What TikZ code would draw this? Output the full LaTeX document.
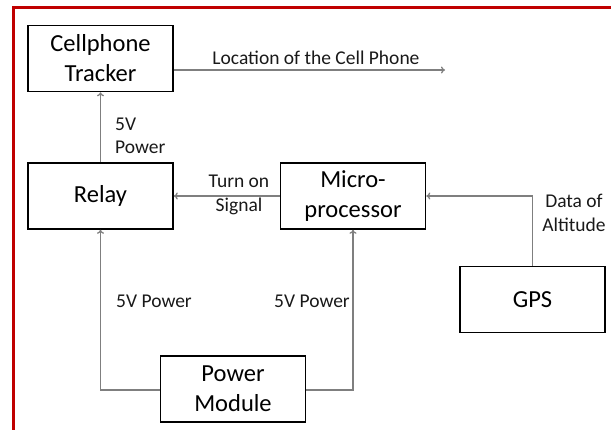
\documentclass[tikz,border=0pt]{standalone}
\usepackage{fontspec}
\setmainfont{Carlito}
\usetikzlibrary{arrows.meta}
\definecolor{framered}{HTML}{C00000}
\definecolor{conn}{HTML}{7F7F7F}
\tikzset{
  blk/.style={draw=black, line width=1.6pt, minimum width=145pt, minimum height=66pt,
    inner sep=0pt, align=center, font=\fontsize{24.5}{30}\selectfont, text=black},
  lbl/.style={font=\fontsize{19.5}{23.5}\selectfont, text=black!90, inner sep=0pt},
  conn/.style={draw=conn, line width=1.3pt, -{To[length=4pt,width=7pt]}}
}
\begin{document}
\begin{tikzpicture}[x=1pt,y=-1pt]
\useasboundingbox (0,0) rectangle (611,429);
\clip (0,0) rectangle (611,429);
\draw[framered, line width=3pt] (13.5,440) -- (13.5,7) -- (620,7);
\node[blk] (tracker) at (100.5,58.5) {Cellphone\\Tracker};
\node[blk] (relay) at (100.5,196) {Relay};
\node[blk] (micro) at (353,196) {Micro-\\processor};
\node[blk] (gps) at (532.5,299.5) {GPS};
\node[blk] (power) at (233,389) {Power\\Module};
\coordinate (loc) at (445,70);
\draw[conn] ([yshift=-11.5pt]tracker.east) -- (loc);
\node[lbl] (loclbl) at (316,58) {Location of the Cell Phone};
\draw[conn] (relay.north) -- (tracker.south);
\node[lbl, align=left, anchor=west] (pw1) at (115,136) {5V\\Power};
\draw[conn] (micro.west) -- (relay.east);
\node[lbl, align=center] (turn) at (239,195) {Turn on\\Signal};
\draw[conn] (gps.north) |- (micro.east);
\node[lbl, align=center] (data) at (574,213) {Data of\\Altitude};
\draw[conn] ([yshift=-1pt]power.west) -| (relay.south);
\node[lbl] (pw2) at (154,301) {5V Power};
\draw[conn] ([yshift=-1pt]power.east) -| (micro.south);
\node[lbl] (pw3) at (312,301) {5V Power};
\end{tikzpicture}
\end{document}
